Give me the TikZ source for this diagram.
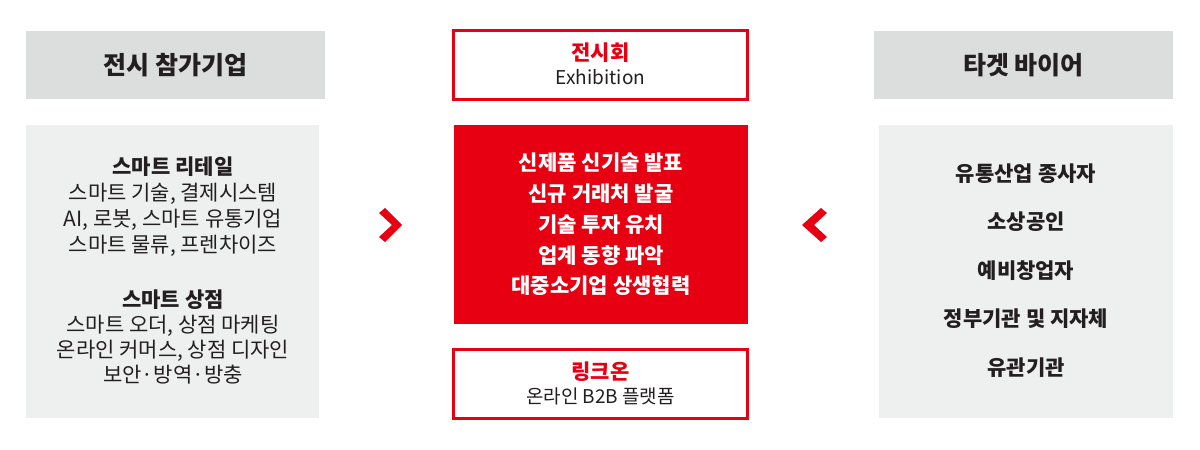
\documentclass[tikz,border=0pt]{standalone}
\usepackage{fontspec}
\setmainfont{Noto Sans CJK KR}
\definecolor{kred}{HTML}{E60012}
\definecolor{ktext}{HTML}{231F20}
\definecolor{khead}{HTML}{DCDDDD}
\definecolor{kbody}{HTML}{EEEFEF}
\begin{document}
\begin{tikzpicture}[x=1pt,y=-1pt,
  headbox/.style={fill=khead,draw=none,minimum width=299pt,minimum height=68pt,inner sep=0},
  bodybox/.style={fill=kbody,draw=none,inner sep=0},
  outlinebox/.style={draw=kred,line width=3pt,fill=white,minimum width=294pt,minimum height=69pt,inner sep=0},
  redbox/.style={fill=kred,draw=none,minimum width=294pt,minimum height=199pt,inner sep=0},
  ln/.style={inner sep=0,text=ktext},
  headtxt/.style={ln,text height=20.5pt,text depth=2pt,font=\fontsize{25}{28}\selectfont\bfseries},
  bodytxt/.style={ln,text height=17.2pt,text depth=1.7pt,font=\fontsize{21}{25}\selectfont},
  bodybold/.style={bodytxt,font=\fontsize{21}{25}\selectfont\bfseries},
  whitetxt/.style={bodybold,text=white},
  redtitle/.style={bodybold,text=kred},
  subtxt/.style={ln,text height=15.6pt,text depth=1.5pt,font=\fontsize{19}{23}\selectfont}
]
\useasboundingbox (0,0) rectangle (1200,450);
\fill[white] (0,0) rectangle (1200,450);

% left column
\node[headbox] (lhead) at (175.5,65) {};
\node[headtxt] (lheadt) at (lhead.center) {전시 참가기업};
\node[bodybox,minimum width=293pt,minimum height=293pt] (lbody) at (172.5,271.5) {};
\node[bodybold] (l1) at (173,167) {스마트 리테일};
\node[bodytxt] (l2) at (173,193) {스마트 기술, 결제시스템};
\node[bodytxt] (l3) at (173,219) {AI, 로봇, 스마트 유통기업};
\node[bodytxt] (l4) at (173,245) {스마트 물류, 프렌차이즈};
\node[bodybold] (l5) at (173,300) {스마트 상점};
\node[bodytxt] (l6) at (173,325) {스마트 오더, 상점 마케팅};
\node[bodytxt] (l7) at (173,350) {온라인 커머스, 상점 디자인};
\node[bodytxt] (l8) at (173,375) {보안·방역·방충};

% center column
\node[outlinebox] (ctop) at (600.5,65) {};
\node[redtitle] (ctop1) at (600.5,53) {전시회};
\node[subtxt] (ctop2) at (600.5,77) {Exhibition};
\node[redbox] (cmid) at (601,224.5) {};
\node[whitetxt] (c1) at (601,163) {신제품 신기술 발표};
\node[whitetxt] (c2) at (601,193.5) {신규 거래처 발굴};
\node[whitetxt] (c3) at (601,224.5) {기술 투자 유치};
\node[whitetxt] (c4) at (601,255.5) {업계 동향 파악};
\node[whitetxt] (c5) at (601,286) {대중소기업 상생협력};
\node[outlinebox] (cbot) at (600.5,384) {};
\node[redtitle] (cbot1) at (600.5,372) {링크온};
\node[subtxt] (cbot2) at (600.5,396) {온라인 B2B 플랫폼};

% chevrons
\fill[kred] (379,213) -- (385,208) -- (402,225) -- (385,242) -- (379,237) -- (392,225) -- cycle;
\fill[kred] (827,213) -- (821,208) -- (802,225) -- (821,242) -- (827,237) -- (814,225) -- cycle;

% right column
\node[headbox] (rhead) at (1023.5,65) {};
\node[headtxt] (rheadt) at (rhead.center) {타겟 바이어};
\node[bodybox,minimum width=294pt,minimum height=293pt] (rbody) at (1026,271.5) {};
\node[bodybold] (r1) at (1026,174) {유통산업 종사자};
\node[bodybold] (r2) at (1026,222) {소상공인};
\node[bodybold] (r3) at (1026,271) {예비창업자};
\node[bodybold] (r4) at (1026,319) {정부기관 및 지자체};
\node[bodybold] (r5) at (1026,368) {유관기관};
\end{tikzpicture}
\end{document}
